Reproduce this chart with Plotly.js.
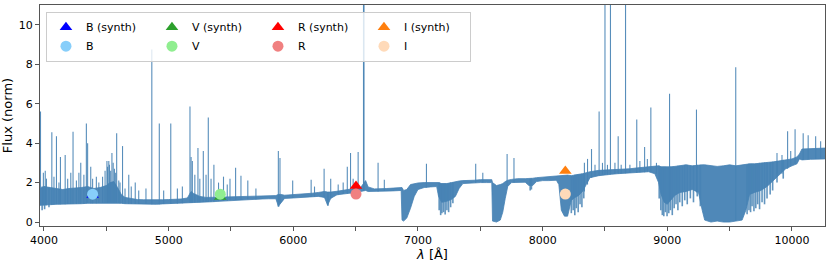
<!DOCTYPE html>
<html>
<head>
<meta charset="utf-8">
<script src="https://cdn.plot.ly/plotly-3.0.1.min.js"></script>
<style>html,body{margin:0;padding:0;background:#fff;}#chart{width:830px;height:264px;}</style>
</head>
<body>
<div id="chart"></div>
<script>
// ---- Spectrum envelope: wavelength [Å], dense lower and upper flux ----
const wave = [3968,4000,4050,4100,4150,4200,4250,4300,4350,4400,4450,4500,4530,4560,4590,4620,4650,4700,4750,4800,4850,4900,4950,5000,5050,5100,5150,5180,5200,5250,5300,5350,5400,5450,5500,5550,5600,5650,5700,5750,5800,5860,5880,5900,5930,6000,6050,6100,6150,6200,6250,6275,6300,6350,6400,6450,6500,6540,6580,6600,6650,6700,6750,6800,6865,6872,6885,6910,6940,6970,7000,7050,7100,7150,7165,7190,7230,7270,7300,7330,7360,7400,7450,7500,7550,7592,7598,7630,7660,7680,7700,7720,7750,7800,7860,7890,7920,7950,8000,8050,8110,8130,8150,8175,8200,8230,8260,8290,8320,8350,8380,8450,8500,8550,8600,8650,8700,8750,8800,8850,8900,8930,8950,8975,9000,9030,9060,9100,9150,9200,9250,9280,9300,9350,9400,9450,9500,9550,9600,9630,9660,9700,9750,9800,9850,9900,9950,10000,10040,10060,10080,10150,10200,10265];
const fluxLo = [0.85,0.85,0.88,0.90,0.90,0.92,0.92,0.93,0.95,0.95,0.96,0.97,0.98,0.98,0.97,0.95,0.93,0.92,0.91,0.91,0.90,0.90,0.92,0.93,0.94,0.95,0.97,0.98,1.00,1.00,1.02,1.03,1.05,1.07,1.10,1.12,1.13,1.15,1.15,1.17,1.18,1.18,0.80,0.95,1.20,1.22,1.24,1.26,1.28,1.30,1.25,0.85,1.20,1.38,1.42,1.45,1.50,1.55,1.60,1.55,1.55,1.55,1.57,1.58,1.60,0.10,0.05,0.20,0.70,1.30,1.65,1.75,1.78,1.80,1.30,1.00,1.05,1.15,1.30,1.70,1.95,1.97,1.98,2.00,2.00,2.00,0.05,0.00,0.10,0.50,1.20,1.80,2.00,2.02,2.02,1.85,1.85,2.05,2.10,2.10,2.12,1.90,0.60,0.30,0.30,1.10,1.25,1.35,1.55,1.90,2.25,2.35,2.40,2.42,2.45,2.47,2.50,2.50,2.52,2.55,2.45,2.00,1.40,1.00,0.90,1.10,1.35,1.50,1.55,1.65,1.50,0.60,0.10,0.00,0.05,0.00,0.00,0.05,0.10,0.60,1.40,1.50,1.60,1.80,2.10,2.45,2.70,2.85,2.95,3.20,3.15,3.18,3.20,3.20];
const fluxHi = [1.70,1.80,1.75,1.70,1.65,1.70,1.72,1.75,1.80,1.70,1.75,1.85,2.00,2.05,1.75,1.40,1.25,1.18,1.14,1.13,1.12,1.12,1.13,1.14,1.15,1.17,1.22,1.55,1.45,1.30,1.25,1.24,1.26,1.27,1.28,1.29,1.30,1.30,1.30,1.32,1.33,1.34,1.40,1.40,1.36,1.38,1.40,1.43,1.46,1.50,1.55,1.52,1.52,1.56,1.60,1.64,1.68,1.75,2.10,1.78,1.68,1.68,1.70,1.72,1.74,1.75,1.60,1.65,1.90,1.95,1.98,2.00,2.01,2.02,2.00,1.95,1.95,2.00,2.05,2.08,2.10,2.10,2.12,2.15,2.15,2.15,2.00,1.85,1.90,1.95,2.05,2.12,2.16,2.20,2.20,2.20,2.22,2.25,2.28,2.30,2.32,2.35,2.35,2.35,2.38,2.35,2.40,2.42,2.45,2.50,2.55,2.62,2.63,2.64,2.66,2.68,2.70,2.74,2.78,2.80,2.85,2.85,2.80,2.80,2.78,2.80,2.82,2.85,2.90,2.85,2.90,2.90,2.90,2.85,2.82,2.85,2.90,2.85,2.90,2.90,2.95,2.95,3.00,3.02,3.05,3.10,3.15,3.20,3.30,3.45,3.70,3.72,3.75,3.75];

// ---- Emission spikes: wavelength [Å] and peak flux ----
const lineWave = [3972,3995,4010,4020,4063,4080,4100,4120,4132,4170,4190,4215,4233,4260,4280,4295,4320,4340,4350,4375,4390,4420,4440,4470,4490,4505,4510,4520,4525,4535,4545,4555,4565,4575,4583,4600,4610,4630,4650,4680,4700,4732,4760,4818,4865,4925,4960,5017,5070,5110,5171,5180,5190,5210,5235,5250,5278,5300,5318,5340,5363,5400,5440,5470,5492,5537,5580,5635,5700,5880,5893,5995,6143,6170,6247,6300,6360,6400,6433,6459,6480,6520,6563,6567,6680,6730,7068,7463,7520,7715,7770,8335,8360,8392,8420,8453,8480,8500,8520,8544,8580,8606,8630,8665,8700,8755,8780,8818,8840,8868,8913,9018,9234,9549,9880,9920,9965,9990,10025,10090,10130,10190,10230];
const linePeak = [5.6,2.5,2.6,2.2,4.55,2.3,4.35,2.0,3.3,3.4,2.2,2.5,4.58,2.1,2.5,3.0,2.4,5.0,4.0,2.8,2.2,2.3,2.0,2.3,2.6,3.1,2.8,3.1,2.9,2.6,3.5,3.0,2.7,2.5,4.5,2.1,2.0,3.85,1.7,2.4,1.8,2.0,1.6,1.7,8.75,5.0,1.6,5.0,1.7,1.8,5.85,3.3,3.1,2.4,3.75,2.2,3.6,2.4,5.3,2.2,2.9,2.0,2.3,1.9,2.2,2.75,2.35,2.1,1.7,3.6,3.25,2.1,2.15,1.8,2.7,2.2,1.9,2.0,2.8,3.5,2.2,3.55,40,40,3.0,2.15,2.95,2.95,2.5,3.45,3.25,3.0,3.2,3.7,2.9,5.6,3.0,40,2.9,40,3.0,4.35,2.9,40,2.9,5.2,3.1,3.8,3.2,5.8,3.0,6.5,5.7,7.85,3.5,3.4,4.6,3.6,4.7,4.5,4.4,4.35,4.1];

// ---- Absorption streaks: wavelength [Å] and lowest flux ----
const dipWave = [3985,4005,4040,5882,6278,7170,7182,7192,7205,7218,7232,7246,7262,7280,7900,7910,8230,8245,8258,8270,8285,8300,8315,8330,8935,8948,8960,8972,8985,8998,9012,9025,9040,9055,9070,9085,9100,9120,9140,9160,9185,9210,9240,9265,9640,9655,9668,9680,9695,9710,9725,9740,9760,9780,9800,9825,9845,9880,9930];
const dipFloor = [0.6,0.65,0.75,0.78,0.82,0.6,0.35,0.45,0.5,0.38,0.6,0.5,0.75,0.95,1.6,1.65,0.45,0.6,0.35,0.7,0.5,0.9,0.75,1.2,1.2,0.6,0.35,0.3,0.5,0.3,0.45,0.6,0.35,0.7,0.9,0.6,1.0,0.8,1.1,0.9,1.2,1.0,1.3,0.8,0.4,0.6,0.5,0.8,0.55,0.7,0.9,0.65,1.0,0.9,1.2,1.4,1.6,2.0,2.2];

// ---- Photometric points ----
const bandNames = ['B','V','R','I'];
const bandWave = [4390, 5414, 6503, 8182];
const synthFlux = [1.37, 1.27, 1.83, 2.59];
const obsFlux = [1.41, 1.41, 1.42, 1.42];
const synthColors = ['#0000ff','#2ca02c','#ff0000','#ff7f0e'];
const obsColors = ['#87cefa','#90ee90','#f08080','#ffdab9'];

// ---- Axis ticks ----
const xTickVals = [4000,4500,5000,5500,6000,6500,7000,7500,8000,8500,9000,9500,10000];
const xTickText = ['4000','','5000','','6000','','7000','','8000','','9000','','10000'];
const yTickVals = [0,2,4,6,8,10];

const specColor = '#4682b4';
const font = 'DejaVu Sans, sans-serif';

function nearest(w) {
  let best = 0;
  for (let k = 1; k < wave.length; k++) if (Math.abs(wave[k]-w) < Math.abs(wave[best]-w)) best = k;
  return best;
}
// emission spikes go up from the dense band; absorption streaks go down from it
const spikeX = [], spikeY = [];
lineWave.forEach((w, i) => { const b = nearest(w); spikeX.push(w, w, null); spikeY.push(fluxLo[b], linePeak[i], null); });
const dipX = [], dipY = [];
dipWave.forEach((w, i) => { const b = nearest(w); dipX.push(w, w, null); dipY.push(fluxHi[b], dipFloor[i], null); });

const traces = [
  {x: wave, y: fluxLo, mode: 'lines', line: {color: specColor, width: 0.8}, showlegend: false, hoverinfo: 'skip'},
  {x: wave, y: fluxHi, mode: 'lines', fill: 'tonexty', fillcolor: 'rgba(70,130,180,0.95)', line: {color: specColor, width: 0.8}, showlegend: false, hoverinfo: 'skip'},
  {x: dipX, y: dipY, mode: 'lines', line: {color: 'rgba(70,130,180,0.85)', width: 1.6}, showlegend: false, hoverinfo: 'skip'},
  {x: spikeX, y: spikeY, mode: 'lines', line: {color: 'rgba(70,130,180,0.9)', width: 1.1}, showlegend: false, hoverinfo: 'skip'}
];
bandNames.forEach((b, i) => {
  traces.push({x: [bandWave[i]], y: [synthFlux[i]], mode: 'markers', name: b + ' (synth)', legendgroup: b,
    marker: {symbol: 'triangle-up', size: 11, color: synthColors[i]}});
});
bandNames.forEach((b, i) => {
  traces.push({x: [bandWave[i]], y: [obsFlux[i]], mode: 'markers', name: b, legendgroup: b,
    marker: {symbol: 'circle', size: 11, color: obsColors[i]}});
});

const layout = {
  width: 830, height: 264,
  margin: {l: 40, r: 5, t: 5, b: 38},
  paper_bgcolor: '#fff', plot_bgcolor: '#fff',
  font: {family: font, size: 11, color: '#000'},
  showlegend: true,
  legend: {orientation: 'h', traceorder: 'grouped', x: 0.0076, y: 0.97, xanchor: 'left', yanchor: 'top',
    bgcolor: 'rgba(255,255,255,0.8)', bordercolor: '#cccccc', borderwidth: 1,
    font: {family: font, size: 11}, tracegroupgap: 0, entrywidth: 61},
  xaxis: {range: [3968, 10265], tickvals: xTickVals, ticktext: xTickText, ticks: 'outside', ticklen: 4,
    tickcolor: '#555', showline: true, linecolor: '#555', mirror: true, showgrid: false, zeroline: false,
    tickfont: {size: 11}, title: {text: '<i>λ</i> [Å]', font: {size: 13}, standoff: 0}},
  yaxis: {range: [-0.2, 11.0], tickvals: yTickVals, ticks: 'outside', ticklen: 4,
    tickcolor: '#555', showline: true, linecolor: '#555', mirror: true, showgrid: false, zeroline: false,
    tickfont: {size: 11}, title: {text: 'Flux (norm)', font: {size: 13}, standoff: 4}}
};
Plotly.newPlot('chart', traces, layout, {displayModeBar: false, staticPlot: true});
</script>
</body>
</html>
